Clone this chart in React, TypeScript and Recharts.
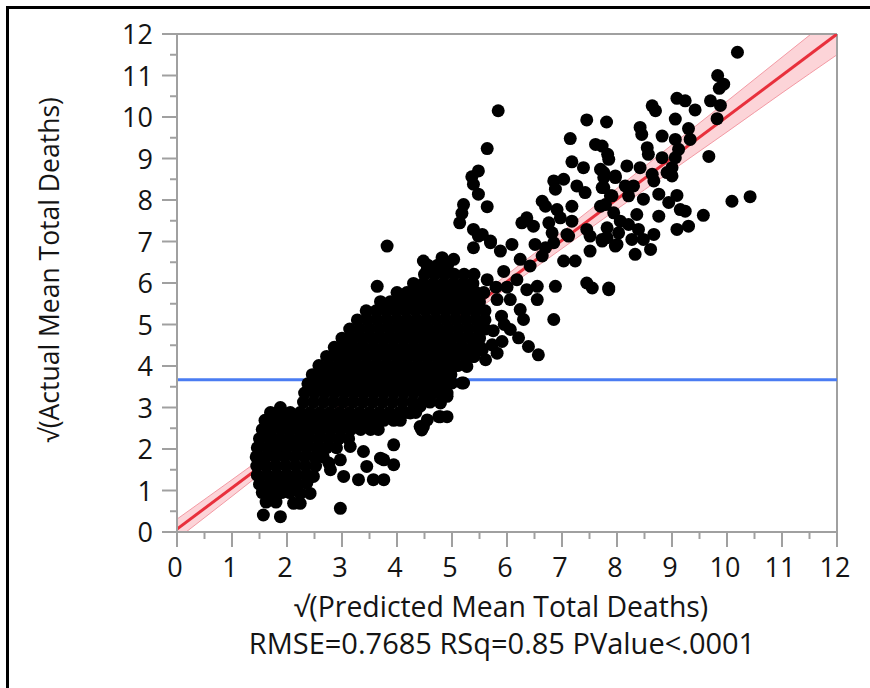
import { Area, ComposedChart, Line, ReferenceLine, Scatter, XAxis, YAxis } from 'recharts'

const FONT = '"Open Sans", sans-serif'
const GRID = '#a0a0a0'
const INK = '#141414'

const axisTicks = [0, 0.5, 1, 1.5, 2, 2.5, 3, 3.5, 4, 4.5, 5, 5.5, 6, 6.5, 7, 7.5, 8, 8.5, 9, 9.5, 10, 10.5, 11, 11.5, 12]

const meanActual = 3.67
const fitX = [0, 12]
const fitY = [0.07, 12.0]

const bandX = [0, 1, 2, 3, 4, 5, 6, 7, 8, 9, 10, 11, 12]
const bandLow = [-0.17, 0.86, 1.9, 2.92, 3.93, 4.91, 5.88, 6.83, 7.78, 8.71, 9.64, 10.58, 11.5]
const bandHigh = [0.31, 1.26, 2.22, 3.18, 4.17, 5.17, 6.2, 7.23, 8.28, 9.33, 10.38, 11.44, 12.5]

// dense core of the cloud, read row by row: [actual, predicted values along that row]
const denseRows: [number, number[]][] = [
  [0.72, [1.62, 1.8]],
  [0.95, [1.55, 1.72, 1.9, 2.05]],
  [1.15, [1.5, 1.68, 1.86, 2.04, 2.2]],
  [1.37, [1.46, 1.64, 1.82, 2.0, 2.18, 2.36]],
  [1.59, [1.45, 1.62, 1.8, 1.98, 2.16, 2.34, 2.52]],
  [1.81, [1.44, 1.6, 1.78, 1.96, 2.14, 2.32, 2.5, 2.66]],
  [2.03, [1.46, 1.64, 1.82, 2.0, 2.18, 2.36, 2.54, 2.72, 2.9]],
  [2.25, [1.5, 1.68, 1.86, 2.04, 2.22, 2.4, 2.58, 2.76, 2.94, 3.12]],
  [2.47, [1.55, 1.72, 1.9, 2.08, 2.26, 2.44, 2.62, 2.8, 2.98, 3.16, 3.34, 3.52, 3.66]],
  [2.69, [1.6, 1.78, 1.96, 2.14, 2.32, 2.5, 2.68, 2.86, 3.04, 3.22, 3.4, 3.58, 3.76, 3.94, 4.06]],
  [2.88, [1.7, 1.88, 2.06, 2.24, 2.42, 2.6, 2.78, 2.96, 3.14, 3.32, 3.5, 3.68, 3.86, 4.04, 4.22, 4.34]],
  [3.13, [2.3, 2.48, 2.66, 2.84, 3.02, 3.2, 3.38, 3.56, 3.74, 3.92, 4.1, 4.28, 4.46, 4.6]],
  [3.35, [2.32, 2.5, 2.68, 2.86, 3.04, 3.22, 3.4, 3.58, 3.76, 3.94, 4.12, 4.3, 4.48, 4.66, 4.8]],
  [3.57, [2.38, 2.56, 2.74, 2.92, 3.1, 3.28, 3.46, 3.64, 3.82, 4.0, 4.18, 4.36, 4.54, 4.72, 4.9]],
  [3.79, [2.46, 2.64, 2.82, 3.0, 3.18, 3.36, 3.54, 3.72, 3.9, 4.08, 4.26, 4.44, 4.62, 4.8, 4.98]],
  [4.01, [2.58, 2.76, 2.94, 3.12, 3.3, 3.48, 3.66, 3.84, 4.02, 4.2, 4.38, 4.56, 4.74, 4.92, 5.1]],
  [4.23, [2.72, 2.9, 3.08, 3.26, 3.44, 3.62, 3.8, 3.98, 4.16, 4.34, 4.52, 4.7, 4.88, 5.06, 5.24, 5.4]],
  [4.45, [2.86, 3.04, 3.22, 3.4, 3.58, 3.76, 3.94, 4.12, 4.3, 4.48, 4.66, 4.84, 5.02, 5.2, 5.38, 5.52]],
  [4.67, [3.0, 3.18, 3.36, 3.54, 3.72, 3.9, 4.08, 4.26, 4.44, 4.62, 4.8, 4.98, 5.16, 5.34, 5.5]],
  [4.89, [3.14, 3.32, 3.5, 3.68, 3.86, 4.04, 4.22, 4.4, 4.58, 4.76, 4.94, 5.12, 5.3, 5.48, 5.6]],
  [5.11, [3.28, 3.46, 3.64, 3.82, 4.0, 4.18, 4.36, 4.54, 4.72, 4.9, 5.08, 5.26, 5.44, 5.6]],
  [5.33, [3.44, 3.62, 3.8, 3.98, 4.16, 4.34, 4.52, 4.7, 4.88, 5.06, 5.24, 5.42, 5.6]],
  [5.55, [3.7, 3.88, 4.06, 4.24, 4.42, 4.6, 4.78, 4.96, 5.14, 5.32, 5.5]],
  [5.77, [4.0, 4.18, 4.36, 4.54, 4.72, 4.9, 5.08, 5.26, 5.44, 5.58]],
  [5.99, [4.3, 4.48, 4.66, 4.84, 5.02, 5.2, 5.38]],
  [6.21, [4.5, 4.68, 4.86, 5.04, 5.22, 5.4]],
  [6.43, [4.56, 4.74, 4.92]],
]

// loose points around the core: [predicted, actual]
const lowerPoints: [number, number][] = [
  [1.57, 0.41], [1.88, 0.37], [2.97, 0.57], [2.12, 0.69], [2.24, 0.69], [1.64, 0.77], [2.24, 0.93], [2.42, 0.93],
  [2.36, 1.18], [2.48, 1.34], [2.79, 1.5], [3.03, 1.34], [3.3, 1.26], [3.57, 1.26], [3.76, 1.26], [3.94, 1.62],
  [3.45, 1.58], [3.7, 1.78], [3.76, 1.74], [3.39, 1.94], [3.94, 2.1], [3.15, 2.06], [2.97, 1.74], [2.76, 1.66],
  [4.42, 2.54], [4.12, 2.87], [4.42, 3.03], [4.24, 2.87], [4.79, 2.78], [4.91, 3.27], [1.88, 3.0],
]

const middlePoints: [number, number][] = [
  [3.82, 6.89], [3.64, 5.92], [4.48, 6.53], [4.55, 6.33], [4.82, 6.61], [5.03, 6.57], [5.39, 6.85], [5.48, 7.13],
  [5.7, 6.97], [5.88, 6.77], [6.09, 6.93], [6.24, 6.57], [6.51, 6.93], [6.7, 6.85], [6.42, 6.41], [6.64, 6.65],
  [7.03, 6.53], [7.24, 6.53], [7.12, 7.13], [7.51, 6.77], [7.73, 7.01], [8.0, 6.93], [7.45, 6.0], [7.55, 5.88],
  [7.85, 5.84], [6.88, 5.92], [6.85, 5.12], [6.55, 5.92], [6.36, 5.84], [6.55, 5.6], [6.18, 6.08], [5.94, 6.28],
  [5.64, 6.08], [6.06, 5.6], [6.3, 5.12], [6.24, 5.36], [6.06, 4.88], [6.21, 4.68], [6.39, 4.47], [6.57, 4.27],
  [5.91, 4.59], [5.82, 4.31], [5.61, 4.15], [5.55, 4.39], [5.73, 4.51], [5.39, 4.23], [5.27, 3.99], [5.18, 3.59],
  [5.0, 3.59], [5.21, 3.59], [4.91, 3.35], [4.79, 3.11], [4.91, 2.78], [4.76, 2.78], [4.55, 2.7], [4.48, 2.54],
  [4.45, 2.46], [5.82, 5.6], [5.9, 5.2], [5.75, 4.85], [5.95, 5.0], [6.0, 5.9], [5.8, 5.9],
]

const upperPoints: [number, number][] = [
  [5.84, 10.15], [5.64, 9.24], [7.45, 9.93], [7.15, 9.48], [7.61, 9.34], [7.85, 8.98], [7.18, 8.92], [7.39, 8.78],
  [7.7, 8.74], [7.76, 8.54], [7.97, 8.54], [5.48, 8.7], [5.36, 8.56], [5.39, 8.38], [5.48, 8.14], [5.64, 7.84],
  [5.21, 7.89], [5.18, 7.68], [5.14, 7.45], [6.85, 8.46], [7.03, 8.5], [7.27, 8.34], [7.42, 8.18], [7.76, 8.3],
  [6.88, 8.26], [7.79, 7.89], [7.91, 8.1], [6.64, 7.97], [6.7, 7.85], [6.91, 7.77], [7.18, 7.85], [6.36, 7.57],
  [6.27, 7.45], [6.48, 7.37], [6.76, 7.45], [6.97, 7.57], [7.18, 7.49], [7.45, 7.29], [7.09, 7.17], [6.82, 7.21],
  [5.39, 7.29], [5.55, 7.17], [5.7, 7.01], [6.85, 6.97], [7.7, 7.85], [7.51, 7.13], [7.82, 7.09],
  [10.19, 11.56], [9.83, 11.0], [9.94, 10.79], [9.86, 10.69], [9.09, 10.45], [9.24, 10.39], [9.7, 10.39], [9.88, 10.28],
  [9.42, 10.17], [8.64, 10.27], [8.7, 10.15], [9.82, 9.96], [9.06, 9.95], [7.81, 9.88], [8.42, 9.75], [8.45, 9.58],
  [9.3, 9.72], [8.82, 9.54], [9.33, 9.46], [9.06, 9.46], [8.55, 9.26], [8.57, 9.1], [9.12, 9.22], [9.06, 9.02],
  [8.82, 9.02], [7.83, 9.1], [9.67, 9.05], [7.73, 9.3], [8.18, 8.82], [8.42, 8.78], [9.0, 8.78], [8.64, 8.62],
  [8.91, 8.66], [7.76, 8.66], [7.97, 8.58], [9.0, 8.58], [8.67, 8.46], [8.3, 8.34], [8.15, 8.34], [7.73, 8.3],
  [7.88, 8.1], [8.21, 8.1], [8.48, 8.02], [8.76, 8.14], [9.09, 8.11], [8.94, 7.94], [10.09, 7.97], [10.42, 8.08],
  [9.15, 7.77], [9.24, 7.73], [9.57, 7.63], [7.94, 7.69], [8.36, 7.65], [8.76, 7.61], [8.06, 7.49], [7.82, 7.33],
  [8.21, 7.41], [8.39, 7.29], [9.09, 7.29], [9.3, 7.37], [8.03, 7.21], [8.67, 7.17], [8.27, 7.05], [8.48, 7.05],
  [7.73, 7.05], [7.97, 6.89], [8.61, 6.81], [8.33, 6.69], [7.85, 5.88],
]

const points = [
  ...denseRows.flatMap(([y, xs]) => xs.map((x) => ({ x, y }))),
  ...[...lowerPoints, ...middlePoints, ...upperPoints].map(([x, y]) => ({ x, y })),
]
const fitData = fitX.map((x, i) => ({ x, y: fitY[i] }))
const bandData = bandX.map((x, i) => ({ x, range: [bandLow[i], bandHigh[i]] }))
const meanData = [{ x: 0, y: meanActual }, { x: 12, y: meanActual }]

function XTick({ x, y, payload }: any) {
  const major = Number.isInteger(payload.value)
  return (
    <g>
      <line x1={x} y1={y} x2={x} y2={y + (major ? 15 : 7)} stroke={GRID} strokeWidth={2} />
      {major && (
        <text x={x - 2} y={y + 45} textAnchor="middle" fontSize={27} fontFamily={FONT} fill={INK}>
          {payload.value}
        </text>
      )}
    </g>
  )
}

function YTick({ x, y, payload }: any) {
  const major = Number.isInteger(payload.value)
  return (
    <g>
      <line x1={x} y1={y} x2={x - (major ? 15 : 7)} y2={y} stroke={GRID} strokeWidth={2} />
      {major && (
        <text x={x - 24} y={y + 10} textAnchor="end" fontSize={27} fontFamily={FONT} fill={INK}>
          {payload.value}
        </text>
      )}
    </g>
  )
}

export default function App() {
  return (
    <div
      style={{
        position: 'absolute',
        left: 0,
        top: 0,
        width: 870,
        height: 688,
        overflow: 'hidden',
        background: '#fff',
      }}
    >
      <div
        style={{
          position: 'absolute',
          left: 6,
          top: 6,
          width: 864,
          height: 682,
          boxSizing: 'border-box',
          borderLeft: '3px solid #000',
          borderTop: '3px solid #000',
        }}
      />
      <ComposedChart
        width={870}
        height={688}
        margin={{ top: 34, right: 33, bottom: 96, left: 0 }}
        style={{ position: 'absolute', left: 0, top: 0 }}
      >
        <XAxis
          type="number"
          dataKey="x"
          domain={[0, 12]}
          ticks={axisTicks}
          interval={0}
          allowDataOverflow
          height={60}
          tickSize={0}
          tickMargin={0}
          tickLine={false}
          axisLine={{ stroke: GRID, strokeWidth: 2 }}
          tick={<XTick />}
        />
        <YAxis
          type="number"
          dataKey="y"
          domain={[0, 12]}
          ticks={axisTicks}
          interval={0}
          allowDataOverflow
          width={177}
          tickSize={0}
          tickMargin={0}
          tickLine={false}
          axisLine={{ stroke: GRID, strokeWidth: 2 }}
          tick={<YTick />}
        />
        <ReferenceLine y={12} stroke={GRID} strokeWidth={2} />
        <ReferenceLine x={12} stroke={GRID} strokeWidth={2} />
        <Area
          data={bandData}
          dataKey="range"
          type="monotone"
          stroke="#f39aa4"
          strokeWidth={1}
          fill="#fcd4d8"
          fillOpacity={1}
          dot={false}
          activeDot={false}
          isAnimationActive={false}
        />
        <Line
          data={meanData}
          dataKey="y"
          stroke="#4a7cf2"
          strokeWidth={3}
          dot={false}
          activeDot={false}
          isAnimationActive={false}
        />
        <Line
          data={fitData}
          dataKey="y"
          stroke="#e8303c"
          strokeWidth={3}
          dot={false}
          activeDot={false}
          isAnimationActive={false}
        />
        <Scatter
          data={points}
          dataKey="y"
          isAnimationActive={false}
          shape={(p: any) => <circle cx={p.cx} cy={p.cy} r={6.5} fill="#000" />}
        />
      </ComposedChart>
      <svg width={870} height={688} style={{ position: 'absolute', left: 0, top: 0, pointerEvents: 'none' }}>
        <text x={501} y={617} textAnchor="middle" fontSize={28.4} fontFamily={FONT} fill={INK}>
          √(Predicted Mean Total Deaths)
        </text>
        <text x={502} y={654} textAnchor="middle" fontSize={29} fontFamily={FONT} fill={INK}>
          RMSE=0.7685 RSq=0.85 PValue&lt;.0001
        </text>
        <text
          x={59}
          y={270}
          textAnchor="middle"
          fontSize={26.5}
          fontFamily={FONT}
          fill={INK}
          transform="rotate(-90 59 270)"
        >
          √(Actual Mean Total Deaths)
        </text>
      </svg>
    </div>
  )
}
